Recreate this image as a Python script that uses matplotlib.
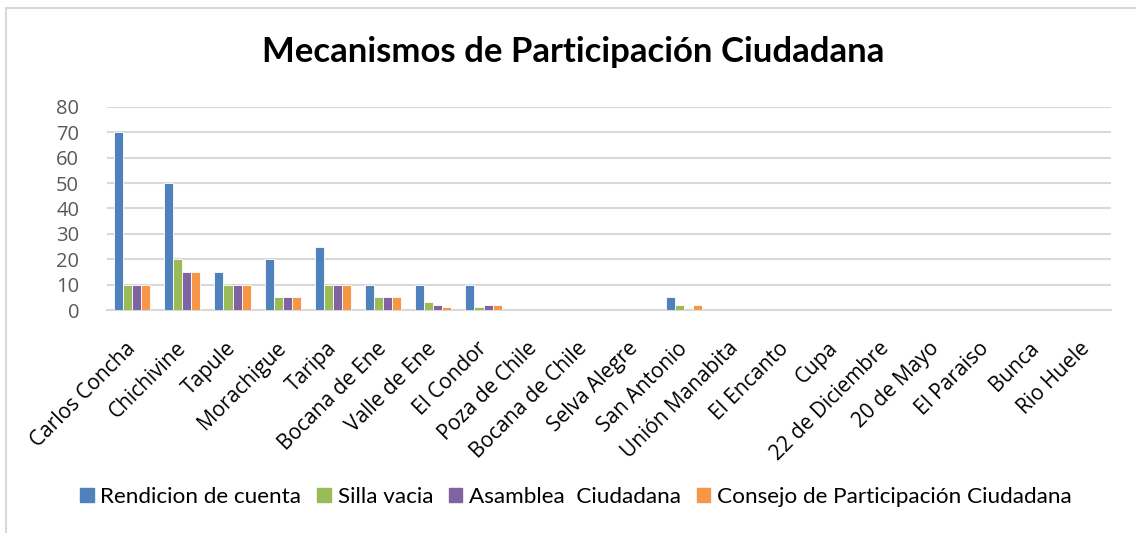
import matplotlib
matplotlib.use("Agg")
import matplotlib.pyplot as plt
import matplotlib.transforms as mtransforms
import numpy as np
from matplotlib.lines import Line2D

categories = ["Carlos Concha", "Chichivine", "Tapule", "Morachigue", "Taripa",
              "Bocana de Ene", "Valle de Ene", "El Condor", "Poza de Chile",
              "Bocana de Chile", "Selva Alegre", "San Antonio", "Unión Manabita",
              "El Encanto", "Cupa", "22 de Diciembre", "20 de Mayo", "El Paraiso",
              "Bunca", "Rio Huele"]
rendicion = [70, 50, 15, 20, 25, 10, 10, 10, 0, 0, 0, 5, 0, 0, 0, 0, 0, 0, 0, 0]
silla = [10, 20, 10, 5, 10, 5, 3, 1, 0, 0, 0, 2, 0, 0, 0, 0, 0, 0, 0, 0]
asamblea = [10, 15, 10, 5, 10, 5, 2, 2, 0, 0, 0, 0, 0, 0, 0, 0, 0, 0, 0, 0]
consejo = [10, 15, 10, 5, 10, 5, 1, 2, 0, 0, 0, 2, 0, 0, 0, 0, 0, 0, 0, 0]
series_names = ["Rendicion de cuenta", "Silla vacia", "Asamblea  Ciudadana",
                "Consejo de Participación Ciudadana"]
colors = ["#4F81BD", "#9BBB59", "#8064A2", "#F79646"]
yticks = [0, 10, 20, 30, 40, 50, 60, 70, 80]

W, H = 1136, 533
fig = plt.figure(figsize=(W / 100, H / 100), dpi=100)
ax = fig.add_axes([107 / W, 1 - 310 / H, (1111 - 107) / W, (310 - 107) / H])

x = np.arange(len(categories))
bw = 0.18
all_series = [rendicion, silla, asamblea, consejo]
for i, (vals, c, name) in enumerate(zip(all_series, colors, series_names)):
    v = np.array(vals, dtype=float)
    ax.bar(x + (i - 1.5) * bw, np.where(v > 0, v, np.nan), width=bw, color=c,
           edgecolor="white", linewidth=0.6, label=name, zorder=3)

ax.set_xlim(-0.5, len(categories) - 0.5)
ax.set_ylim(0, 80)
ax.set_yticks(yticks)
ax.set_yticklabels([str(t) for t in yticks], fontsize=14.5, color="#595959",
                   family="Open Sans")
ax.yaxis.grid(True, color="#D9D9D9", linewidth=1.5, zorder=0)
ax.set_axisbelow(True)
for s in ["top", "right", "left"]:
    ax.spines[s].set_visible(False)
ax.spines["bottom"].set_color("#D9D9D9")
ax.spines["bottom"].set_linewidth(1.5)
ax.tick_params(axis="y", length=0, pad=20)
ax.tick_params(axis="x", length=0, pad=14)
ax.set_xticks(x)
ax.set_xticklabels(categories, rotation=45, ha="right", rotation_mode="anchor",
                   fontsize=15, family="Open Sans", color="black")
offset = mtransforms.ScaledTranslation(-0.07, -0.085, fig.dpi_scale_trans)
for lbl in ax.get_xticklabels():
    lbl.set_transform(lbl.get_transform() + offset)

fig.text(573 / W, 1 - 52 / H, "Mecanismos de Participación Ciudadana",
         ha="center", va="center", fontsize=25, fontweight="bold",
         family="Lato", color="black")

handles = [plt.Rectangle((0, 0), 1, 1, color=c) for c in colors]
fig.legend(handles, series_names, loc="center",
           bbox_to_anchor=(576 / W, 1 - 497 / H), ncol=4, frameon=False,
           prop={"family": "Lato", "size": 16.2}, handlelength=0.6,
           handleheight=0.6, handletextpad=0.3, columnspacing=0.7)

# chart border (partially cropped)
fig.add_artist(Line2D([6 / W, 6 / W], [0, 1 - 8 / H], transform=fig.transFigure,
                      color="#D9D9D9", linewidth=1.5))
fig.add_artist(Line2D([6 / W, 1], [1 - 8 / H, 1 - 8 / H], transform=fig.transFigure,
                      color="#D9D9D9", linewidth=1.5))

fig.savefig("out.png", dpi=100)
